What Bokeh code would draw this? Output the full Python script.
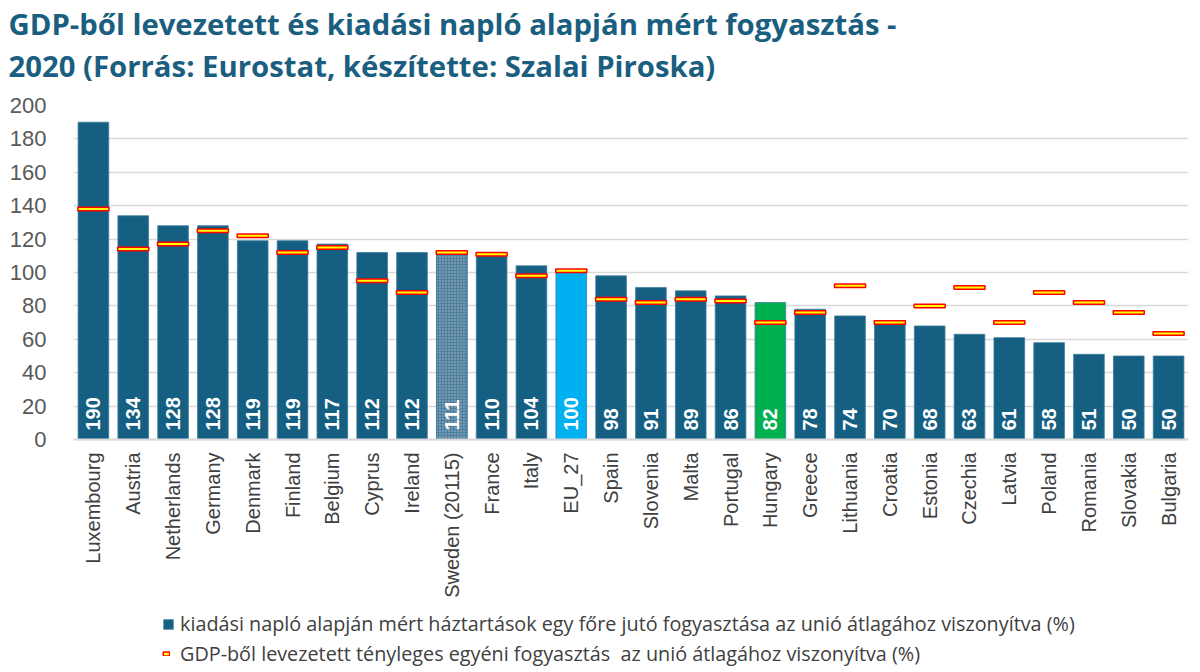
import math
from bokeh.plotting import figure
from bokeh.models import ColumnDataSource, FixedTicker, Legend, LegendItem, Title, Span
from bokeh.core.properties import value
from bokeh.embed import file_html
from bokeh.resources import INLINE

countries = ["Luxembourg", "Austria", "Netherlands", "Germany", "Denmark", "Finland",
             "Belgium", "Cyprus", "Ireland", "Sweden (20115)", "France", "Italy", "EU_27",
             "Spain", "Slovenia", "Malta", "Portugal", "Hungary", "Greece", "Lithuania",
             "Croatia", "Estonia", "Czechia", "Latvia", "Poland", "Romania", "Slovakia",
             "Bulgaria"]
household = [190, 134, 128, 128, 119, 119, 117, 112, 112, 111, 110, 104, 100,
             98, 91, 89, 86, 82, 78, 74, 70, 68, 63, 61, 58, 51, 50, 50]
gdp_based = [138, 114, 117, 125, 122, 112, 115, 95, 88, 112, 111, 98, 101,
             84, 82, 84, 83, 70, 76, 92, 70, 80, 91, 70, 88, 82, 76, 63.5]
y_ticks = [0, 20, 40, 60, 80, 100, 120, 140, 160, 180, 200]

title_line1 = "GDP-ből levezetett és kiadási napló alapján mért fogyasztás -"
title_line2 = "2020 (Forrás: Eurostat, készítette: Szalai Piroska)"
legend_bar = "kiadási napló alapján mért háztartások egy főre jutó fogyasztása az unió átlagához viszonyítva (%)"
legend_mark = "GDP-ből levezetett tényleges egyéni fogyasztás  az unió átlagához viszonyítva (%)"

BLUE = "#156082"
TITLE_BLUE = "#1a5e80"
FONT = "Liberation Sans"
TFONT = "Open Sans"

# frame: top at value 200 (y=105 px), value 0 at y=439 px, frame reaches the page bottom
PX_PER_UNIT = (439 - 105) / 200.0
Y_MIN = -(672 - 439) / PX_PER_UNIT


def bar_color(c):
    if c == "EU_27":
        return "#00b0f0"
    if c == "Hungary":
        return "#00b050"
    return BLUE


src = ColumnDataSource(dict(
    country=countries,
    household=household,
    gdp=gdp_based,
    label=[str(v) for v in household],
    color=[bar_color(c) for c in countries],
))

sw = countries.index("Sweden (20115)")
sw_src = ColumnDataSource(dict(country=[countries[sw]], household=[household[sw]]))

p = figure(width=1200, height=672, x_range=countries, y_range=(Y_MIN, 200),
           output_backend="svg", toolbar_location=None,
           min_border_left=73, min_border_right=12, min_border_top=105,
           min_border_bottom=0, background_fill_color="white",
           border_fill_color="white", title=title_line1)
p.outline_line_color = None
p.xaxis.visible = False

bars = p.vbar(x="country", top="household", width=0.77, source=src,
              fill_color="color", line_color="#3f7c9c", line_width=0.8)
p.vbar(x="country", top="household", width=0.77, source=sw_src,
       fill_color="#4f7f9c", line_color="#3f7c9c", line_width=0.8,
       hatch_pattern="dot", hatch_color="#a9c2d2", hatch_scale=3, hatch_weight=1.2)

p.add_layout(Span(location=0, dimension="width", line_color="#d9d9d9", line_width=2))

# value labels inside bars
p.text(x="country", y=0, text="label", source=src, angle=math.pi / 2,
       text_align="left", text_baseline="middle", y_offset=-9,
       text_color="white", text_font=value(FONT), text_font_style="bold",
       text_font_size="20px")

# category labels under the axis
p.text(x="country", y=0, text="country", source=src, angle=math.pi / 2,
       text_align="right", text_baseline="middle", y_offset=13,
       text_color="#404040", text_font=value(FONT), text_font_size="20px")

marks = p.rect(x="country", y="gdp", width=0.78, height=3.5, height_units="screen",
               source=src, fill_color="#ffff00", line_color="#ff0000", line_width=1.5)

# y axis
p.yaxis.ticker = FixedTicker(ticks=y_ticks)
p.yaxis.axis_line_color = None
p.yaxis.major_tick_line_color = None
p.yaxis.minor_tick_line_color = None
p.yaxis.major_label_text_font = FONT
p.yaxis.major_label_text_font_size = "22px"
p.yaxis.major_label_text_color = "#595959"
p.yaxis.major_label_standoff = 21

p.xgrid.grid_line_color = None
p.ygrid.ticker = FixedTicker(ticks=y_ticks)
p.ygrid.grid_line_color = "#d9d9d9"
p.ygrid.grid_line_width = 1.5

# title (two lines, left aligned at the page edge); a small spacer keeps it off the plot
title_style = dict(text_font=TFONT, text_font_size="29.3px", text_font_style="bold",
                   text_color=TITLE_BLUE, align="left", offset=-65)
for k, v in title_style.items():
    setattr(p.title, k, v)
p.title.standoff = 0
p.add_layout(Title(text=" ", text_font_size="5.5px", standoff=12), "above")
p.add_layout(Title(text=title_line2, standoff=0, **title_style), "above")

common = dict(orientation="vertical", label_height=20, padding=0, margin=0,
              border_line_color=None, background_fill_alpha=0,
              label_text_font=TFONT, label_text_font_size="19.8px",
              label_text_color="#404040")
leg1 = Legend(items=[LegendItem(label=legend_bar, renderers=[bars], index=0)],
              location=(89, 672 - 637), glyph_width=12, glyph_height=12,
              label_standoff=6, **common)
leg2 = Legend(items=[LegendItem(label=legend_mark, renderers=[marks], index=0)],
              location=(89, 672 - 667), glyph_width=8, glyph_height=5,
              label_standoff=10, **common)
p.add_layout(leg1, "center")
p.add_layout(leg2, "center")

open("out.html", "w").write(file_html(p, INLINE))
